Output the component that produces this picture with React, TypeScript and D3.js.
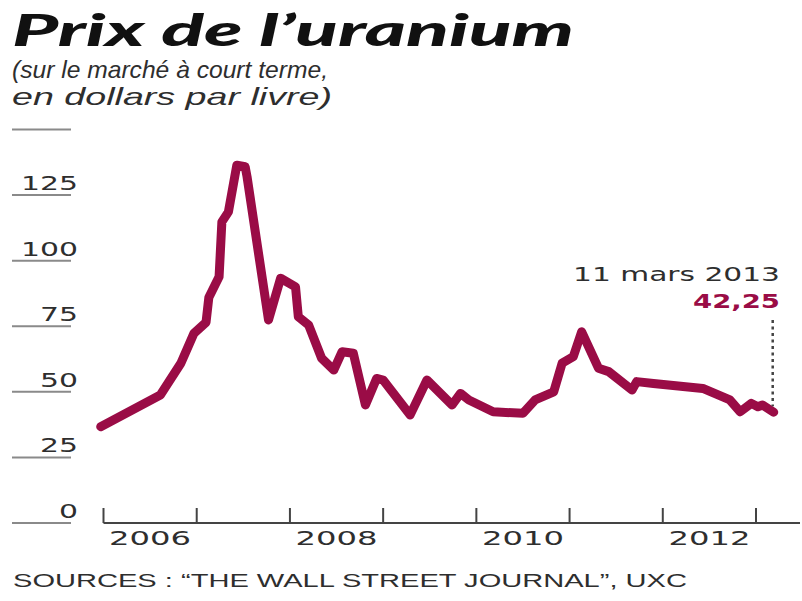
import React from "react";
import * as d3 from "d3";

// price readings (decimal year, $ per pound)
const years = [
  2005.97, 2006.61, 2006.83, 2006.97, 2007.1, 2007.13, 2007.24, 2007.27,
  2007.34, 2007.43, 2007.52, 2007.54, 2007.77, 2007.9, 2008.06, 2008.09,
  2008.2, 2008.34, 2008.47, 2008.56, 2008.68, 2008.81, 2008.93, 2009.0,
  2009.29, 2009.47, 2009.74, 2009.83, 2009.92, 2010.18, 2010.5, 2010.63,
  2010.83, 2010.92, 2011.04, 2011.13, 2011.31, 2011.42, 2011.67, 2011.72,
  2011.9, 2012.43, 2012.72, 2012.83, 2012.95, 2013.02, 2013.07, 2013.19,
];
const prices = [
  36.7, 48.8, 60.9, 72.3, 76.5, 86, 93.9, 114.8,
  118.6, 136.4, 135.8, 132, 77.4, 93.3, 90, 78.6,
  75.5, 62.8, 58.3, 65.3, 64.7, 45, 55.1, 54.5,
  41.2, 54.5, 45, 49.4, 46.9, 42.4, 41.8, 46.9,
  50, 60.9, 63.4, 72.9, 59, 57.7, 50.7, 53.9,
  53.2, 51.3, 46.9, 42.4, 45.6, 44.3, 45, 42.25,
];

const yTicks = [0, 25, 50, 75, 100, 125, 150];
const yLabels = ["0", "25", "50", "75", "100", "125", ""];
const xTicks = [2006, 2007, 2008, 2009, 2010, 2011, 2012, 2013];
const xLabels = ["2006", "2008", "2010", "2012"];

const lastDate = "11 mars 2013";
const lastValue = "42,25";

const W = 802;
const H = 601;
const RED = "#9a0c46";
const INK = "#2e2e2e";

export default function App() {
  const x = d3.scaleLinear().domain([2006, 2013]).range([103.5, 756]);
  const y = d3.scaleLinear().domain([0, 150]).range([523, 129.5]);

  const pts = years.map((yr, i) => [yr, prices[i]] as [number, number]);
  const line = d3
    .line<[number, number]>()
    .x((d) => x(d[0]))
    .y((d) => y(d[1]));

  const lastX = x(years[years.length - 1]);
  const lastY = y(prices[prices.length - 1]);

  return (
    <svg
      width={W}
      height={H}
      style={{ position: "absolute", left: 0, top: 0, background: "#fff" }}
    >
      {/* title */}
      <text
        x={12}
        y={46}
        fontFamily="Lato"
        fontWeight={900}
        fontStyle="italic"
        fontSize={44}
        fill="#111"
        textLength={562}
        lengthAdjust="spacingAndGlyphs"
      >
        Prix de l’uranium
      </text>
      <text
        x={12}
        y={78}
        fontFamily="Liberation Sans"
        fontStyle="italic"
        fontSize={24}
        fill={INK}
        textLength={316}
        lengthAdjust="spacingAndGlyphs"
      >
        (sur le marché à court terme,
      </text>
      <text
        x={12}
        y={105}
        fontFamily="Liberation Sans"
        fontStyle="italic"
        fontSize={24}
        fill={INK}
        textLength={320}
        lengthAdjust="spacingAndGlyphs"
      >
        en dollars par livre)
      </text>

      {/* y axis marks */}
      {yTicks.map((t, i) => (
        <g key={t}>
          <line x1={12} x2={71} y1={y(t)} y2={y(t)} stroke="#8a8a8a" strokeWidth={2} />
          {yLabels[i] && (
            <text
              x={78}
              y={y(t) - 5}
              textAnchor="end"
              fontFamily="DejaVu Sans"
              fontSize={19}
              fill={INK}
              textLength={yLabels[i].length * 19}
              lengthAdjust="spacingAndGlyphs"
            >
              {yLabels[i]}
            </text>
          )}
        </g>
      ))}

      {/* x axis */}
      <line x1={x(2006)} x2={800} y1={y(0)} y2={y(0)} stroke="#444" strokeWidth={2} />
      {xTicks.map((t) => (
        <line key={t} x1={x(t)} x2={x(t)} y1={y(0) - 15} y2={y(0)} stroke="#444" strokeWidth={2} />
      ))}
      {xLabels.map((l) => (
        <text
          key={l}
          x={x(+l + 0.5)}
          y={545}
          textAnchor="middle"
          fontFamily="DejaVu Sans"
          fontSize={19}
          fill={INK}
          textLength={l.length * 20.5}
          lengthAdjust="spacingAndGlyphs"
        >
          {l}
        </text>
      ))}

      {/* price line */}
      <path
        d={line(pts) || ""}
        fill="none"
        stroke={RED}
        strokeWidth={9}
        strokeLinejoin="round"
        strokeLinecap="round"
      />

      {/* annotation */}
      <line
        x1={lastX - 1}
        x2={lastX - 1}
        y1={320}
        y2={lastY - 6}
        stroke="#444"
        strokeWidth={2.5}
        strokeDasharray="3 3.5"
      />
      <text
        x={780}
        y={281}
        textAnchor="end"
        fontFamily="DejaVu Sans"
        fontSize={19}
        fill={INK}
        textLength={207}
        lengthAdjust="spacingAndGlyphs"
      >
        {lastDate}
      </text>
      <text
        x={780}
        y={308}
        textAnchor="end"
        fontFamily="DejaVu Sans"
        fontWeight="bold"
        fontSize={20}
        fill={RED}
        textLength={87}
        lengthAdjust="spacingAndGlyphs"
      >
        {lastValue}
      </text>

      {/* source */}
      <text
        x={13}
        y={587}
        fontFamily="Liberation Sans"
        fontSize={18}
        fill={INK}
        textLength={674}
        lengthAdjust="spacingAndGlyphs"
      >
        SOURCES : “THE WALL STREET JOURNAL”, UXC
      </text>
    </svg>
  );
}
